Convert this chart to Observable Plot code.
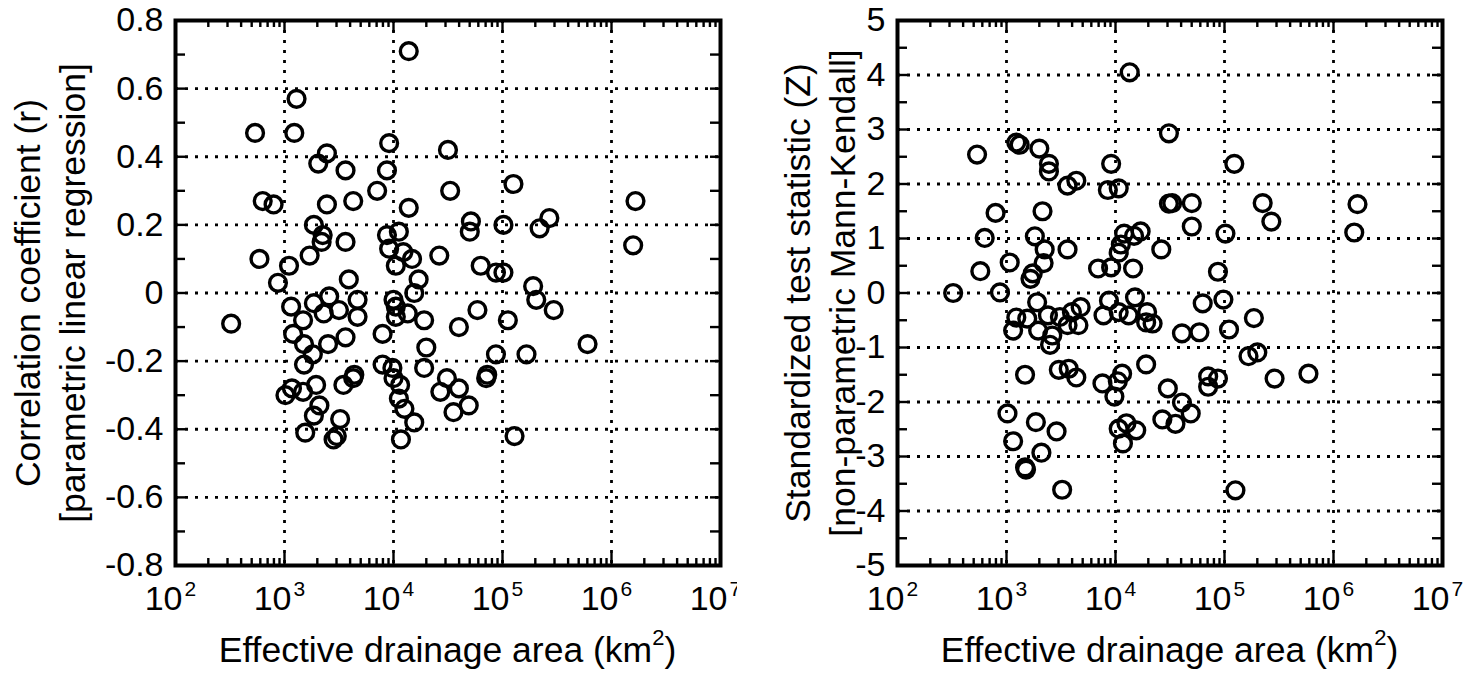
<!DOCTYPE html>
<html>
<head>
<meta charset="utf-8">
<script src="https://cdn.jsdelivr.net/npm/d3@7"></script>
<script src="https://cdn.jsdelivr.net/npm/@observablehq/plot@0.6"></script>
<style>
  body { margin: 0; background: #fff; }
  #root { position: relative; width: 1474px; height: 677px; overflow: hidden; background: #fff;
          font-family: "Liberation Sans", Arial, Helvetica, sans-serif; color: #000; }
  .panel { position: absolute; top: 0; width: 737px; height: 620px; }
  .xtitle { position: absolute; top: 630px; width: 545px; font-size: 35.5px; line-height: 40px;
            text-align: center; white-space: nowrap; color: #000; }
  .xtitle sup { font-size: 22px; line-height: 0; vertical-align: baseline; position: relative; top: -17px; }
</style>
</head>
<body>
<div id="root"></div>
<script>
// ---------- data ----------
// Left panel: effective drainage area (km^2) vs correlation coefficient r
const leftArea = [13800,1290,537,1230,9120,2450,31600,2040,3630,8710,7080,33100,631,794,2450,4270,13800,1860,2240,2190,3630,8710,11200,9120,12300,14800,26300,10500,589,1100,1700,871,3890,17000,15500,126000,1660000,1580000,51300,50100,102000,269000,219000,63100,87100,102000,191000,324,1150,1860,2570,3160,4680,4680,2290,1480,1200,1510,1820,1510,2510,3630,1170,1020,1480,1950,2090,1860,1550,2820,3020,3240,3470,4270,10000,10500,10500,13500,7940,19100,39800,20000,19100,7940,9770,10000,11500,11200,12600,15500,11700,30900,26900,39800,35500,204000,295000,58900,112000,603000,87100,166000,72400,70800,49000,129000,4370];
const leftR = [0.71,0.57,0.47,0.47,0.44,0.41,0.42,0.38,0.36,0.36,0.30,0.30,0.27,0.26,0.26,0.27,0.25,0.20,0.17,0.15,0.15,0.17,0.18,0.13,0.12,0.10,0.11,0.08,0.10,0.08,0.11,0.03,0.04,0.04,0.00,0.32,0.27,0.14,0.21,0.18,0.20,0.22,0.19,0.08,0.06,0.06,0.02,-0.09,-0.04,-0.03,-0.01,-0.05,-0.02,-0.07,-0.06,-0.08,-0.12,-0.15,-0.18,-0.21,-0.15,-0.13,-0.28,-0.30,-0.29,-0.27,-0.33,-0.36,-0.41,-0.43,-0.42,-0.37,-0.27,-0.25,-0.02,-0.04,-0.07,-0.06,-0.12,-0.08,-0.10,-0.16,-0.22,-0.21,-0.22,-0.25,-0.27,-0.31,-0.34,-0.38,-0.43,-0.25,-0.29,-0.28,-0.35,-0.02,-0.05,-0.05,-0.08,-0.15,-0.18,-0.18,-0.24,-0.25,-0.33,-0.42,-0.24];

// Right panel: effective drainage area (km^2) vs Mann-Kendall Z
const rightArea = [13500,30900,537,1230,1320,2000,2450,2450,3630,4370,9120,8510,10700,30900,794,2140,631,1820,2240,2190,3630,1070,575,1740,1660,6920,9120,14500,11200,10700,12000,14800,17000,26300,324,871,123000,33100,50100,224000,269000,1660000,1550000,50100,102000,87100,15100,1910,1230,1150,1550,2400,1950,3090,3980,4790,4570,3630,2630,2510,7760,8710,10700,13200,19500,19100,21900,1480,3020,3720,4370,7590,10500,11500,9770,19100,30200,1020,1150,1860,2880,2090,1480,1510,3240,12600,10700,15500,11700,26900,63100,97700,186000,40700,58900,110000,200000,166000,70800,87100,70800,288000,589000,40700,49000,35500,126000];
const rightZ = [4.05,2.93,2.54,2.76,2.72,2.65,2.37,2.23,1.97,2.06,2.37,1.89,1.92,1.64,1.47,1.50,1.01,1.04,0.80,0.55,0.80,0.56,0.40,0.36,0.26,0.45,0.47,0.45,0.89,0.74,1.09,1.05,1.13,0.80,0.00,0.01,2.37,1.65,1.65,1.65,1.31,1.63,1.11,1.22,1.09,0.39,-0.08,-0.17,-0.45,-0.69,-0.47,-0.41,-0.69,-0.44,-0.35,-0.26,-0.59,-0.59,-0.78,-0.95,-0.41,-0.14,-0.35,-0.41,-0.35,-0.54,-0.56,-1.50,-1.41,-1.39,-1.55,-1.66,-1.62,-1.48,-1.90,-1.31,-1.75,-2.21,-2.72,-2.37,-2.54,-2.93,-3.20,-3.24,-3.61,-2.39,-2.49,-2.52,-2.76,-2.32,-0.19,-0.12,-0.46,-0.74,-0.72,-0.67,-1.09,-1.16,-1.53,-1.57,-1.72,-1.57,-1.48,-2.01,-2.21,-2.40,-3.62];

// axes / tick labels
const decades = [1e2, 1e3, 1e4, 1e5, 1e6, 1e7];
const decadeBase = ["10", "10", "10", "10", "10", "10"];
const decadeExp = ["2", "3", "4", "5", "6", "7"];
const minorMult = [2, 3, 4, 5, 6, 7, 8, 9];

const rTicks = [-0.8, -0.6, -0.4, -0.2, 0, 0.2, 0.4, 0.6, 0.8];
const rTickLabels = ["-0.8", "-0.6", "-0.4", "-0.2", "0", "0.2", "0.4", "0.6", "0.8"];
const rMinor = [-0.8,-0.7,-0.6,-0.5,-0.4,-0.3,-0.2,-0.1,0,0.1,0.2,0.3,0.4,0.5,0.6,0.7,0.8];
const rGrid = [-0.6, -0.4, -0.2, 0, 0.2, 0.4, 0.6];

const zTicks = [-5, -4, -3, -2, -1, 0, 1, 2, 3, 4, 5];
const zTickLabels = ["-5", "-4", "-3", "-2", "-1", "0", "1", "2", "3", "4", "5"];
const zMinor = [-5,-4.5,-4,-3.5,-3,-2.5,-2,-1.5,-1,-0.5,0,0.5,1,1.5,2,2.5,3,3.5,4,4.5,5];
const zGrid = [-4, -3, -2, -1, 0, 1, 2, 3, 4];

const leftTitle = "Correlation coefficient (r)\n[parametric linear regression]";
const rightTitle = "Standardized test statistic (Z)\n[non-parametric Mann-Kendall]";

// ---------- drawing ----------
const FONT = "\"Liberation Sans\", Arial, Helvetica, sans-serif";
const minorX = decades.slice(0, -1).flatMap(d => minorMult.map(k => k * d));

function panel({area, values, yDomain, yTicks, yLabels, yMinor, yGrid, title, titleDx, marginLeft, marginRight}) {
  const W = 737, H = 620, mt = 20, mb = 55;
  const fh = H - mt - mb;
  const fw = W - marginLeft - marginRight;
  const data = area.map((a, i) => ({area: a, v: values[i]}));
  const dash = {stroke: "black", strokeWidth: 2.8, strokeDasharray: "3,7"};
  const tick = {stroke: "black", strokeWidth: 2.4};
  return Plot.plot({
    width: W, height: H,
    marginTop: mt, marginBottom: mb, marginLeft, marginRight,
    x: {type: "log", domain: [1e2, 1e7], axis: null},
    y: {domain: yDomain, axis: null},
    style: {fontFamily: FONT, fontSize: "34px", color: "black", background: "white", overflow: "visible"},
    marks: [
      Plot.ruleX(decades.slice(1, -1), dash),
      Plot.ruleY(yGrid, dash),
      Plot.tickX(minorX, {x: d => d, insetTop: fh - 7, ...tick}),
      Plot.tickX(minorX, {x: d => d, insetBottom: fh - 7, ...tick}),
      Plot.tickX(decades, {x: d => d, insetTop: fh - 12, ...tick}),
      Plot.tickX(decades, {x: d => d, insetBottom: fh - 12, ...tick}),
      Plot.tickY(yMinor, {y: d => d, insetRight: fw - 10, ...tick}),
      Plot.tickY(yMinor, {y: d => d, insetLeft: fw - 10, ...tick}),
      Plot.dot(data, {x: "area", y: "v", r: 8.4, stroke: "black", strokeWidth: 3.4, fill: "none"}),
      Plot.frame({stroke: "black", strokeWidth: 4}),
      Plot.axisY(yTicks, {
        tickSize: 0, tickPadding: 12, label: null, fontSize: 34,
        tickFormat: d => yLabels[yTicks.indexOf(d)]
      }),
      Plot.text(decades, {
        x: d => d, frameAnchor: "bottom", text: (d, i) => decadeBase[i],
        textAnchor: "end", lineAnchor: "bottom", dx: 7, dy: 44, fontSize: 34
      }),
      Plot.text(decades, {
        x: d => d, frameAnchor: "bottom", text: (d, i) => decadeExp[i],
        textAnchor: "start", lineAnchor: "bottom", dx: 9, dy: 30, fontSize: 21
      }),
      Plot.text([title], {
        frameAnchor: "left", text: d => d, rotate: -90, dx: titleDx,
        fontSize: 35.5, lineHeight: 1.27, textAnchor: "middle"
      })
    ]
  });
}

const root = document.getElementById("root");

function addPanel(left, svg, frameLeft) {
  const div = document.createElement("div");
  div.className = "panel";
  div.style.left = left + "px";
  div.appendChild(svg);
  root.appendChild(div);
  const t = document.createElement("div");
  t.className = "xtitle";
  t.style.left = frameLeft + "px";
  t.innerHTML = "Effective drainage area (km<sup>2</sup>)";
  root.appendChild(t);
}

addPanel(0, panel({
  area: leftArea, values: leftR, yDomain: [-0.8, 0.8],
  yTicks: rTicks, yLabels: rTickLabels, yMinor: rMinor, yGrid: rGrid,
  title: leftTitle, titleDx: -127, marginLeft: 175, marginRight: 17
}), 175);

addPanel(737, panel({
  area: rightArea, values: rightZ, yDomain: [-5, 5],
  yTicks: zTicks, yLabels: zTickLabels, yMinor: zMinor, yGrid: zGrid,
  title: rightTitle, titleDx: -79, marginLeft: 160, marginRight: 32
}), 897);
</script>
</body>
</html>
